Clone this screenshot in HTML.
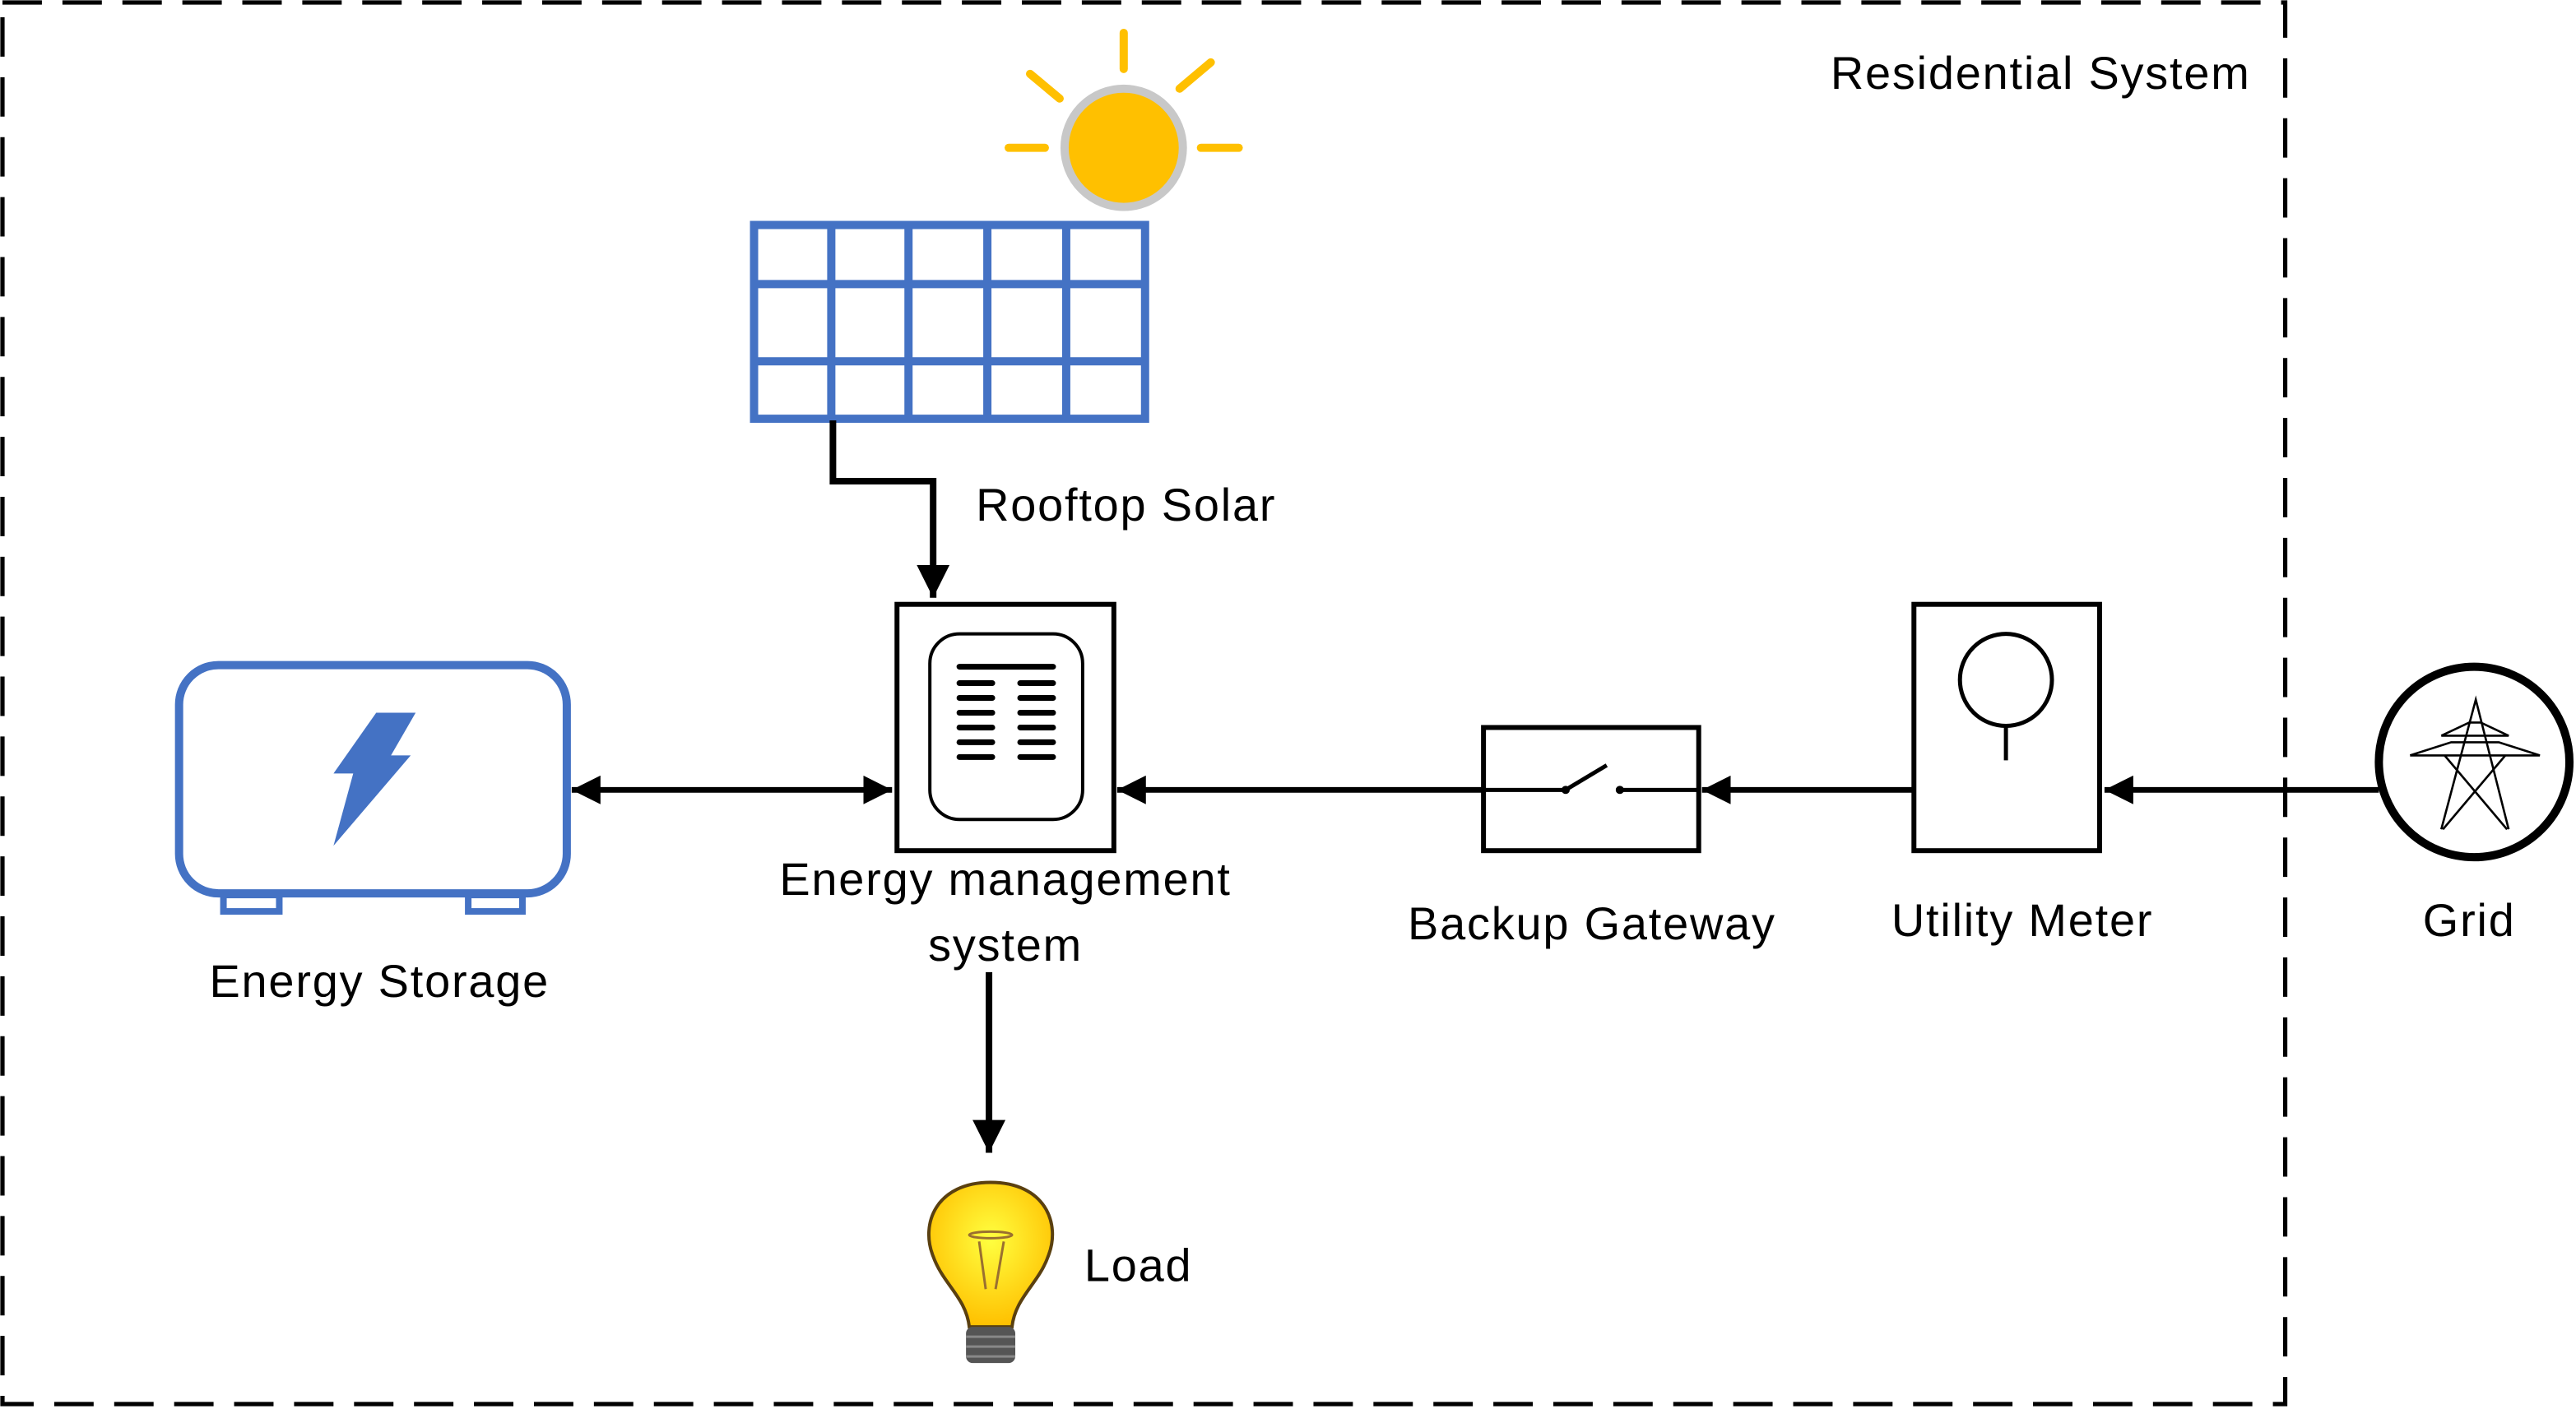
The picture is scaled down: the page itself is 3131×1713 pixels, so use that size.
<!DOCTYPE html>
<html><head><meta charset="utf-8"><style>
html,body{margin:0;padding:0;background:#fff;}
svg{display:block;}
text{font-family:"Liberation Sans",sans-serif;font-size:28px;letter-spacing:0.9px;fill:#000;}
</style></head><body>
<svg width="3131" height="1713" viewBox="0 0 1568 858" preserveAspectRatio="none" xmlns="http://www.w3.org/2000/svg">
<defs>
<marker id="ah" viewBox="0 0 10 10" refX="10" refY="5" markerWidth="5" markerHeight="5" orient="auto-start-reverse" markerUnits="strokeWidth"><path d="M0,0 L10,5 L0,10 z" fill="#000"/></marker>
<radialGradient id="bg" cx="0.5" cy="0.4" r="0.6"><stop offset="0" stop-color="#ffff40"/><stop offset="1" stop-color="#ffc000"/></radialGradient>
</defs>
<rect x="1.5" y="1.5" width="1389.5" height="853.5" fill="none" stroke="#000" stroke-width="2.6" stroke-dasharray="24,12.5"/>
<text x="1370" y="54" text-anchor="end">Residential System</text>
<!-- sun -->
<g stroke="#FFC000" stroke-width="5" stroke-linecap="round">
<line x1="684" y1="20" x2="684" y2="42"/><line x1="718" y1="54" x2="737" y2="38"/>
<line x1="627" y1="45" x2="645" y2="60"/><line x1="614" y1="90" x2="636" y2="90"/><line x1="731" y1="90" x2="754" y2="90"/>
</g>
<circle cx="684" cy="90" r="36" fill="#FFC000" stroke="#C8C8C8" stroke-width="5"/>
<!-- panel -->
<g stroke="#4472C4" stroke-width="5" fill="none">
<rect x="459" y="137" width="238" height="118"/>
<line x1="506" y1="137" x2="506" y2="255"/><line x1="553" y1="137" x2="553" y2="255"/>
<line x1="601" y1="137" x2="601" y2="255"/><line x1="649" y1="137" x2="649" y2="255"/>
<line x1="459" y1="173" x2="697" y2="173"/><line x1="459" y1="220" x2="697" y2="220"/>
</g>
<polyline points="507,256 507,293 568,293 568,364" fill="none" stroke="#000" stroke-width="4" marker-end="url(#ah)"/>
<text x="594" y="317">Rooftop Solar</text>
<!-- EMS -->
<rect x="546" y="368" width="132" height="150" fill="#fff" stroke="#000" stroke-width="3"/>
<rect x="566" y="386" width="93" height="113" rx="18" fill="none" stroke="#000" stroke-width="2"/>
<g stroke="#000" stroke-width="3.5" stroke-linecap="round">
<line x1="584" y1="406" x2="641" y2="406"/>
<line x1="584" y1="416" x2="604" y2="416"/><line x1="621" y1="416" x2="641" y2="416"/>
<line x1="584" y1="425" x2="604" y2="425"/><line x1="621" y1="425" x2="641" y2="425"/>
<line x1="584" y1="434" x2="604" y2="434"/><line x1="621" y1="434" x2="641" y2="434"/>
<line x1="584" y1="443" x2="604" y2="443"/><line x1="621" y1="443" x2="641" y2="443"/>
<line x1="584" y1="452" x2="604" y2="452"/><line x1="621" y1="452" x2="641" y2="452"/>
<line x1="584" y1="461" x2="604" y2="461"/><line x1="621" y1="461" x2="641" y2="461"/>
</g>
<text x="612" y="545" text-anchor="middle">Energy management</text>
<text x="612" y="585" text-anchor="middle">system</text>
<line x1="602" y1="592" x2="602" y2="702" stroke="#000" stroke-width="4" marker-end="url(#ah)"/>
<!-- bulb -->
<path d="M603,720 C570,720 560,745 568,765 C574,782 588,790 590,808 L616,808 C618,790 632,782 638,765 C646,745 636,720 603,720 Z" fill="url(#bg)" stroke="#5a4010" stroke-width="2"/>
<g stroke="#9a7030" stroke-width="1.5" fill="none"><ellipse cx="603" cy="752" rx="13" ry="2"/><line x1="596" y1="756" x2="600" y2="785"/><line x1="611" y1="756" x2="606" y2="785"/></g>
<rect x="588" y="808" width="30" height="22" rx="4" fill="#555"/>
<g stroke="#888" stroke-width="1.5"><line x1="588" y1="814" x2="618" y2="814"/><line x1="588" y1="820" x2="618" y2="820"/><line x1="588" y1="826" x2="618" y2="826"/></g>
<text x="660" y="780">Load</text>
<!-- storage -->
<rect x="109" y="405" width="236" height="139" rx="24" fill="none" stroke="#4472C4" stroke-width="5"/>
<rect x="136" y="545" width="34" height="10" fill="none" stroke="#4472C4" stroke-width="4"/>
<rect x="285" y="545" width="33" height="10" fill="none" stroke="#4472C4" stroke-width="4"/>
<polygon points="229,434 253,434 238,460 250,460 203,515 215,471 203,471" fill="#4472C4"/>
<text x="231" y="607" text-anchor="middle">Energy Storage</text>
<line x1="348" y1="481" x2="543" y2="481" stroke="#000" stroke-width="3.5" marker-start="url(#ah)" marker-end="url(#ah)"/>
<line x1="903" y1="481" x2="680" y2="481" stroke="#000" stroke-width="3.5" marker-end="url(#ah)"/>
<!-- gateway -->
<rect x="903" y="443" width="131" height="75" fill="#fff" stroke="#000" stroke-width="3"/>
<g stroke="#000" stroke-width="2.5"><line x1="903" y1="481" x2="953" y2="481"/><line x1="953" y1="481" x2="978" y2="466"/><line x1="986" y1="481" x2="1034" y2="481"/></g>
<circle cx="953" cy="481" r="2.5"/><circle cx="986" cy="481" r="2.5"/>
<text x="969" y="572" text-anchor="middle">Backup Gateway</text>
<line x1="1165" y1="481" x2="1036" y2="481" stroke="#000" stroke-width="3.5" marker-end="url(#ah)"/>
<!-- meter -->
<rect x="1165" y="368" width="113" height="150" fill="#fff" stroke="#000" stroke-width="3"/>
<circle cx="1221" cy="414" r="28" fill="none" stroke="#000" stroke-width="2.5"/>
<line x1="1221" y1="442" x2="1221" y2="463" stroke="#000" stroke-width="2.5"/>
<text x="1231" y="570" text-anchor="middle">Utility Meter</text>
<line x1="1448" y1="481" x2="1281" y2="481" stroke="#000" stroke-width="3.5" marker-end="url(#ah)"/>
<!-- grid -->
<circle cx="1506" cy="464" r="58" fill="#fff" stroke="#000" stroke-width="5"/>
<g stroke="#000" stroke-width="1.3" fill="none">
<polyline points="1486,505 1507,426 1527,505"/>
<polyline points="1486,448 1503,440 1510,440 1527,448 1486,448"/>
<polyline points="1467,460 1492,452 1521,452 1546,460 1467,460"/>
<line x1="1488" y1="460" x2="1526" y2="505"/><line x1="1525" y1="460" x2="1487" y2="505"/>
</g>
<text x="1503" y="570" text-anchor="middle">Grid</text>
</svg>
</body></html>
